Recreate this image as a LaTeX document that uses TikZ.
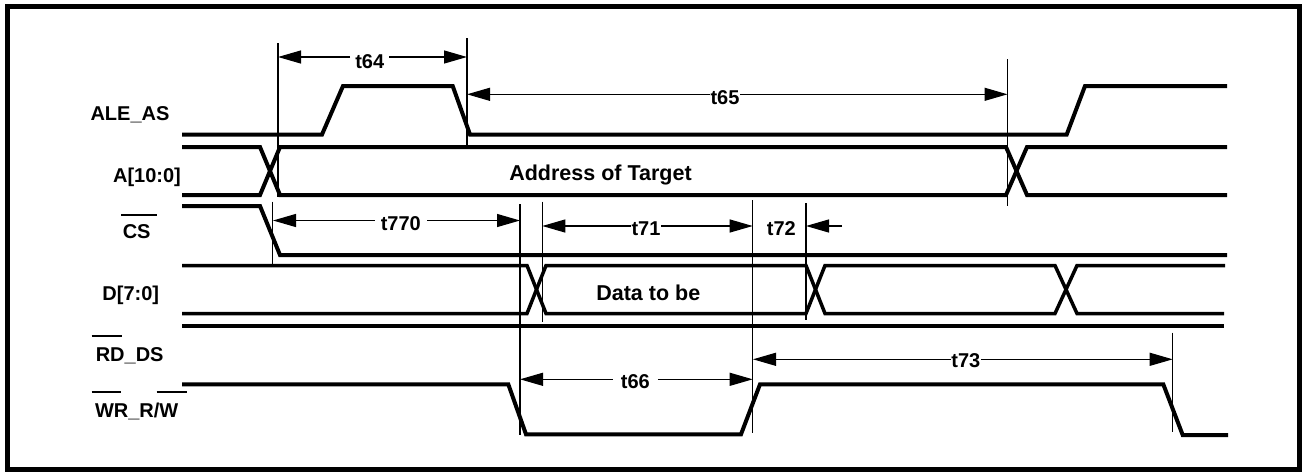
\documentclass[tikz,border=0pt]{standalone}
\usepackage{fontspec}
\setmainfont{Liberation Sans}
\usetikzlibrary{arrows.meta}
\begin{document}
\begin{tikzpicture}[x=1pt,y=-1pt,
  sig/.style={line width=4pt},
  bus/.style={line width=3.5pt},
  markline/.style={line width=1.2pt},
  dim/.style={line width=1.2pt,-{Triangle[length=23pt,width=13pt]}},
  lbl/.style={font=\fontsize{20}{24}\selectfont\bfseries,inner sep=0pt,anchor=base},
  tlbl/.style={font=\fontsize{20}{24}\selectfont\bfseries,inner ysep=0pt,anchor=base},
  btxt/.style={font=\fontsize{21.5}{25}\selectfont\bfseries,inner sep=0pt,anchor=base},
  ovl/.style={line width=2pt}
]
\useasboundingbox (0,0) rectangle (1304,472);
\draw[line width=5pt] (7.5,6.7) rectangle (1299.5,469.5);

% signal labels
\node[lbl] (lale) at (130,120) {ALE\_AS};
\node[lbl] (laddr) at (147,182.7) {A[10:0]};
\node[lbl] (lcs) at (136.7,238.3) {CS};
\node[lbl] (ld) at (130.8,300) {D[7:0]};
\node[lbl] (lrd) at (129.7,361.7) {RD\_DS};
\node[lbl] (lwr) at (136.7,417.3) {WR\_R/W};
\draw[ovl] (121,214.7) -- (156.7,214.7);
\draw[ovl] (91.7,336) -- (121.7,336);
\draw[ovl] (91.7,391.7) -- (121,391.7);
\draw[ovl] (156.7,391.7) -- (187,391.7);

% ALE_AS
\draw[sig] (182,134.5) -- (322,134.5) -- (343,86) -- (452.7,86) -- (470,134.5) -- (1066.7,134.5) -- (1085,86) -- (1227,86);
% A[10:0]
\draw[sig] (182,147) -- (260,147) -- (280,195) -- (1006,195) -- (1027,147) -- (1227,147);
\draw[sig] (182,195) -- (260,195) -- (280,147) -- (1006,147) -- (1027,195) -- (1227,195);
\node[btxt] (addr) at (600.5,180) {Address of Target};
% CS
\draw[sig] (182,206) -- (260,206) -- (280,255) -- (1227,255);
% D[7:0]
\draw[bus] (182,265.5) -- (527,265.5) -- (546,313.5) -- (806,313.5) -- (825,265.5) -- (1055,265.5) -- (1077,313.5) -- (1224,313.5);
\draw[bus] (182,313.5) -- (527,313.5) -- (546,265.5) -- (806,265.5) -- (825,313.5) -- (1055,313.5) -- (1077,265.5) -- (1225,265.5);
\node[btxt] (data) at (648.3,300) {Data to be};
% RD_DS
\draw[sig] (182,326) -- (1224,326);
% WR_R/W
\draw[sig] (182,384.3) -- (508.3,384.3) -- (526,434.3) -- (741,434.3) -- (760,384.3) -- (1163.3,384.3) -- (1182.7,435) -- (1228,435);

% marker lines
\draw[markline] (278,43) -- (278,197);
\draw[markline] (467,38) -- (467,145);
\draw[markline] (1007.5,59) -- (1007.5,206);
\draw[markline] (272.5,201.7) -- (272.5,265);
\draw[markline] (520,204) -- (520,435);
\draw[markline] (542.3,201.7) -- (542.3,321.7);
\draw[markline] (752.7,200) -- (752.7,433);
\draw[markline] (806,203) -- (806,320);
\draw[markline] (1172.7,332.7) -- (1172.7,431.7);

% timing arrows
\coordinate (a64L) at (278,57);   \coordinate (a64R) at (467,57);
\node[tlbl,inner xsep=5pt] (t64) at (369.7,68.3) {t64};
\draw[dim] (t64.west |- a64L) -- (a64L);
\draw[dim] (t64.east |- a64R) -- (a64R);

\coordinate (a65L) at (467,94.3); \coordinate (a65R) at (1007.5,94.3);
\node[tlbl,inner xsep=0.5pt] (t65) at (725,104) {t65};
\draw[dim] (t65.west |- a65L) -- (a65L);
\draw[dim] (t65.east |- a65R) -- (a65R);

\coordinate (a770L) at (273,220.5); \coordinate (a770R) at (520,220.5);
\node[tlbl,inner xsep=6pt] (t770) at (400.8,230) {t770};
\draw[dim] (t770.west |- a770L) -- (a770L);
\draw[dim] (t770.east |- a770R) -- (a770R);

\coordinate (a71L) at (542.3,226); \coordinate (a71R) at (752.7,226);
\node[tlbl,inner xsep=0.5pt] (t71) at (646,235) {t71};
\draw[dim] (t71.west |- a71L) -- (a71L);
\draw[dim] (t71.east |- a71R) -- (a71R);

\coordinate (a72S) at (842,226); \coordinate (a72T) at (806,226);
\node[tlbl] (t72) at (781.3,235) {t72};
\draw[dim] (a72S) -- (a72T);

\coordinate (a66L) at (520,379.3); \coordinate (a66R) at (752.7,379.3);
\node[tlbl,inner xsep=8pt] (t66) at (635.3,388.3) {t66};
\draw[dim] (t66.west |- a66L) -- (a66L);
\draw[dim] (t66.east |- a66R) -- (a66R);

\coordinate (a73L) at (753,359.3); \coordinate (a73R) at (1172.7,359.3);
\node[tlbl,inner xsep=0.5pt] (t73) at (965.8,367.3) {t73};
\draw[dim] (t73.west |- a73L) -- (a73L);
\draw[dim] (t73.east |- a73R) -- (a73R);
\end{tikzpicture}
\end{document}
